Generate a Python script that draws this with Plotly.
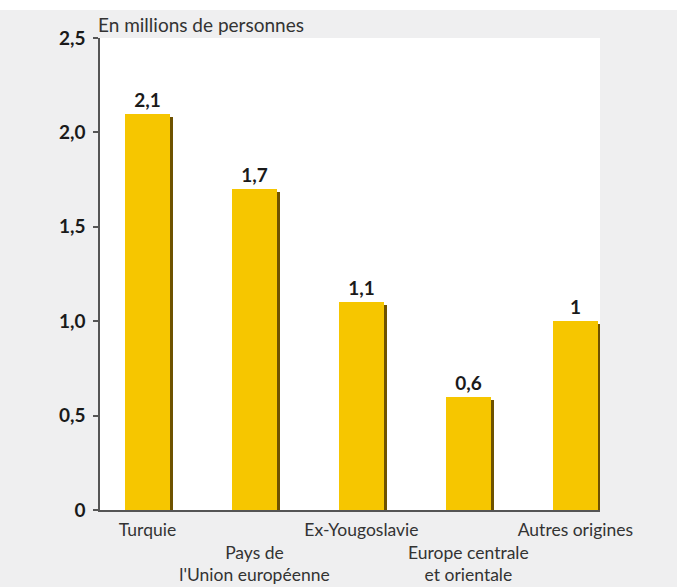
import plotly.graph_objects as go

# Origin groups and populations (millions of people)
categories = ["Turquie", "Pays de l'Union européenne", "Ex-Yougoslavie",
              "Europe centrale et orientale", "Autres origines"]
tick_labels = ["Turquie", "<br>Pays de<br>l'Union européenne", "Ex-Yougoslavie",
               "<br>Europe centrale<br>et orientale", "Autres origines"]
values = [2.1, 1.7, 1.1, 0.6, 1.0]
y_tick_vals = [0, 0.5, 1.0, 1.5, 2.0, 2.5]
y_tick_text = ["0", "0,5", "1,0", "1,5", "2,0", "2,5"]


def fr_number(v):
    s = f"{v:g}"
    return s.replace(".", ",")


value_labels = [fr_number(v) for v in values]
x_idx = list(range(len(categories)))

BAR_W = 0.42
YELLOW = "#f6c600"
SHADOW = "#6e5200"
FONT = "Lato, 'Open Sans', sans-serif"

fig = go.Figure()

# Dark edge on the right of each bar for a slight relief effect
fig.add_trace(go.Bar(
    x=x_idx, y=[v - 0.016 for v in values],
    width=BAR_W, offset=-BAR_W / 2 + 0.03,
    marker=dict(color=SHADOW, line=dict(width=0)),
    hoverinfo="skip", showlegend=False,
))

fig.add_trace(go.Bar(
    x=x_idx, y=values,
    width=BAR_W, offset=-BAR_W / 2,
    marker=dict(color=YELLOW, line=dict(width=0)),
    text=value_labels, textposition="outside", cliponaxis=False,
    textfont=dict(family=FONT, size=19, color="#1a1a1a", weight="bold"),
    hovertext=categories, showlegend=False,
))

fig.update_layout(
    width=677, height=587,
    margin=dict(l=100, r=77, t=38, b=77),
    paper_bgcolor="#efeff0",
    plot_bgcolor="#ffffff",
    barmode="overlay",
    bargap=0,
    font=dict(family=FONT, color="#333333"),
    xaxis=dict(
        range=[-0.444, 4.23],
        tickmode="array", tickvals=x_idx, ticktext=tick_labels,
        tickangle=0, automargin=False, ticklabelstandoff=3,
        tickfont=dict(family=FONT, size=17.5, color="#333333"),
        showline=True, linecolor="#555555", linewidth=1.5,
        ticks="", showgrid=False, zeroline=False, fixedrange=True,
    ),
    yaxis=dict(
        range=[0, 2.5], automargin=False,
        tickmode="array", tickvals=y_tick_vals, ticktext=y_tick_text,
        tickfont=dict(family=FONT, size=19, color="#1a1a1a", weight="bold"),
        ticklabelstandoff=4,
        showline=True, linecolor="#555555", linewidth=1.5,
        ticks="outside", ticklen=5, tickcolor="#555555", tickwidth=1.5,
        showgrid=False, zeroline=False, fixedrange=True,
    ),
    shapes=[
        dict(type="rect", xref="paper", yref="paper",
             x0=-0.3, x1=1.3, y0=1.0 + 28 / 472, y1=1.2,
             fillcolor="#ffffff", line=dict(width=0), layer="below"),
    ],
    annotations=[
        dict(text="En millions de personnes", xref="paper", yref="paper",
             x=-0.008, y=1.0 + 13 / 472, xanchor="left", yanchor="middle",
             showarrow=False,
             font=dict(family=FONT, size=19, color="#333333")),
    ],
)

fig.write_html("out.html")
